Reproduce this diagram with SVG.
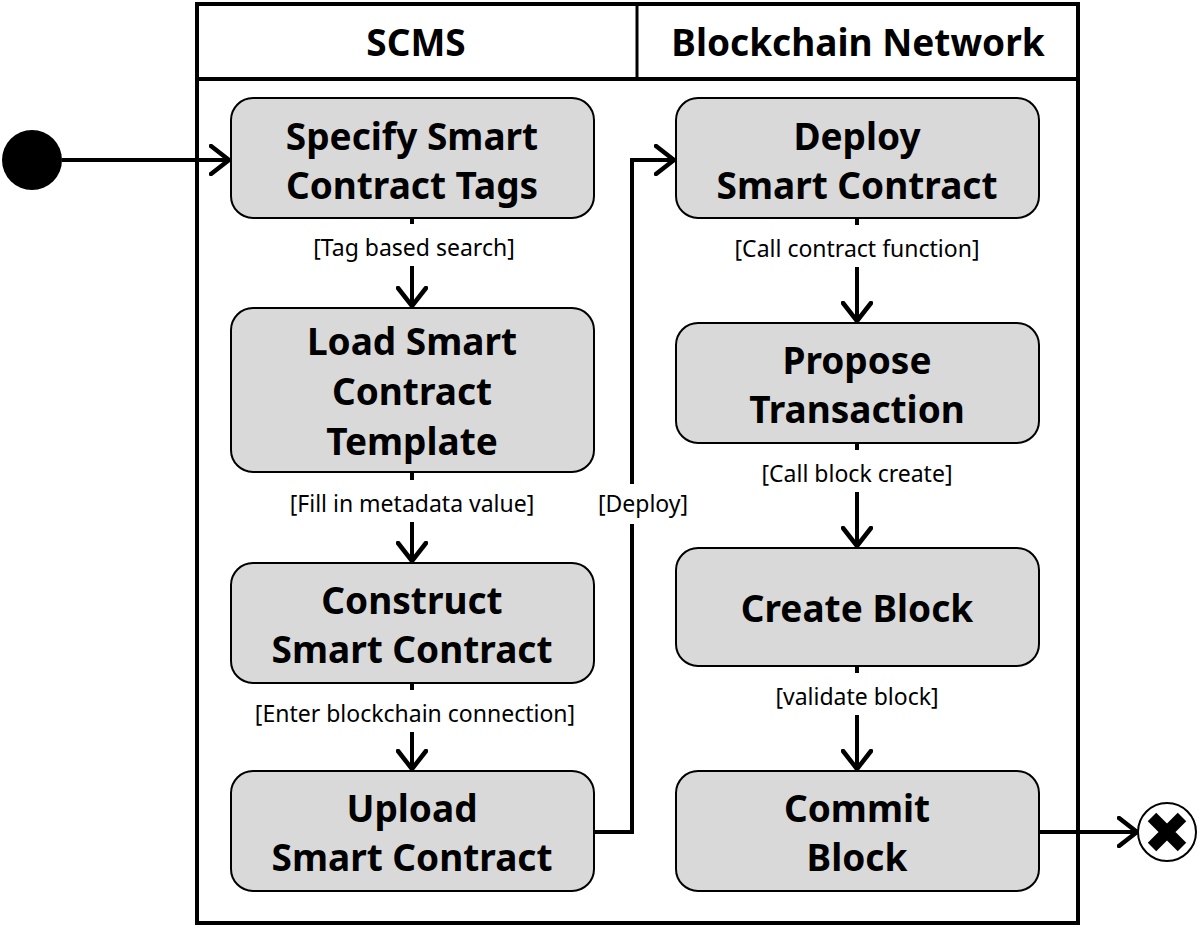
<svg xmlns="http://www.w3.org/2000/svg" width="1200" height="929" viewBox="0 0 1200 929">
<style>
.n{fill:#d9d9d9;stroke:#000;stroke-width:2}
.t{font-family:"Noto Sans","DejaVu Sans",sans-serif;font-weight:bold;font-size:37px;text-anchor:middle}
.h{font-family:"Noto Sans","DejaVu Sans",sans-serif;font-weight:bold;font-size:37px;text-anchor:middle}
.l{font-family:"Noto Sans","DejaVu Sans",sans-serif;font-size:23px;text-anchor:middle}
.c{fill:none;stroke:#000;stroke-width:4}
.bg{fill:#fff}
</style>
<defs>
<marker id="a" viewBox="0 0 22 32" refX="20" refY="16" markerWidth="22" markerHeight="32" markerUnits="userSpaceOnUse" orient="auto">
<path d="M2 2 L20 16 L2 30" fill="none" stroke="#000" stroke-width="4.5" stroke-linecap="round"/>
</marker>
</defs>
<g id="frame">
<rect x="197" y="4" width="881" height="919" fill="#fff" stroke="#000" stroke-width="4"/>
<line x1="197" y1="79" x2="1078" y2="79" stroke="#000" stroke-width="4"/>
<line x1="637" y1="4" x2="637" y2="79" stroke="#000" stroke-width="3"/>
<text class="h" x="416" y="56">SCMS</text>
<text class="h" x="858" y="56">Blockchain Network</text>
</g>
<g id="connectors">
<path class="c" d="M62 160 H229" marker-end="url(#a)"/>
<path class="c" d="M412 218 V306" marker-end="url(#a)"/>
<path class="c" d="M412 472 V561" marker-end="url(#a)"/>
<path class="c" d="M412 683 V769" marker-end="url(#a)"/>
<path class="c" d="M594 832 H632 V160 H674" marker-end="url(#a)"/>
<path class="c" d="M857 218 V321" marker-end="url(#a)"/>
<path class="c" d="M857 443 V546" marker-end="url(#a)"/>
<path class="c" d="M857 666 V769" marker-end="url(#a)"/>
<path class="c" d="M1039 832 H1137" marker-end="url(#a)"/>
<rect class="bg" x="290" y="224" width="245" height="42"/>
<text class="l" x="414" y="256">[Tag based search]</text>
<rect class="bg" x="262" y="480" width="300" height="42"/>
<text class="l" x="412" y="512">[Fill in metadata value]</text>
<rect class="bg" x="225" y="690" width="380" height="42"/>
<text class="l" x="415" y="722">[Enter blockchain connection]</text>
<rect class="bg" x="588" y="484" width="110" height="40"/>
<text class="l" x="643" y="512">[Deploy]</text>
<rect class="bg" x="705" y="225" width="305" height="42"/>
<text class="l" x="857" y="257">[Call contract function]</text>
<rect class="bg" x="735" y="450" width="245" height="42"/>
<text class="l" x="857" y="482">[Call block create]</text>
<rect class="bg" x="752" y="673" width="210" height="42"/>
<text class="l" x="857" y="705">[validate block]</text>
</g>
<g id="start"><circle cx="32" cy="160" r="30" fill="#000"/></g>
<g id="end"><circle cx="1167" cy="832" r="29" fill="#fff" stroke="#000" stroke-width="2"/>
<path d="M1152 817 L1182 847 M1182 817 L1152 847" stroke="#000" stroke-width="12"/></g>
<g id="n1"><rect class="n" x="231" y="98" width="363" height="120" rx="22"/><text class="t" x="412" y="150">Specify Smart</text><text class="t" x="412" y="199">Contract Tags</text></g>
<g id="n2"><rect class="n" x="231" y="308" width="363" height="164" rx="22"/><text class="t" x="412" y="355">Load Smart</text><text class="t" x="412" y="405">Contract</text><text class="t" x="412" y="455">Template</text></g>
<g id="n3"><rect class="n" x="231" y="563" width="363" height="120" rx="22"/><text class="t" x="412" y="614">Construct</text><text class="t" x="412" y="663">Smart Contract</text></g>
<g id="n4"><rect class="n" x="231" y="771" width="363" height="120" rx="22"/><text class="t" x="412" y="822">Upload</text><text class="t" x="412" y="871">Smart Contract</text></g>
<g id="n5"><rect class="n" x="676" y="98" width="363" height="120" rx="22"/><text class="t" x="857" y="150">Deploy</text><text class="t" x="857" y="199">Smart Contract</text></g>
<g id="n6"><rect class="n" x="676" y="323" width="363" height="120" rx="22"/><text class="t" x="857" y="374">Propose</text><text class="t" x="857" y="423">Transaction</text></g>
<g id="n7"><rect class="n" x="676" y="548" width="363" height="118" rx="22"/><text class="t" x="857" y="622">Create Block</text></g>
<g id="n8"><rect class="n" x="676" y="771" width="363" height="120" rx="22"/><text class="t" x="857" y="822">Commit</text><text class="t" x="857" y="871">Block</text></g>
</svg>
